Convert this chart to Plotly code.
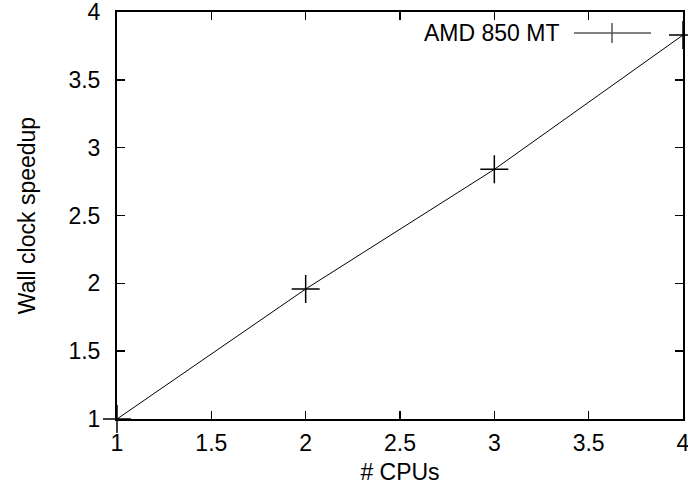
import plotly.graph_objects as go

cpus = [1, 2, 3, 4]
speedup = [1.0, 1.958, 2.84, 3.83]
series_name = "AMD 850 MT"
tick_vals = [1, 1.5, 2, 2.5, 3, 3.5, 4]
tick_text = ["1", "1.5", "2", "2.5", "3", "3.5", "4"]

fig = go.Figure()
fig.add_trace(go.Scatter(
    x=cpus, y=speedup, mode="lines+markers", name=series_name,
    line=dict(color="black", width=1),
    marker=dict(symbol="cross-thin-open", size=20, line=dict(color="#555555", width=1.5)),
    showlegend=False, cliponaxis=False,
))

font = dict(family="Liberation Sans, Arial, sans-serif", size=23, color="black")
axis_common = dict(
    range=[1, 4], tickvals=tick_vals, ticktext=tick_text,
    ticks="inside", ticklen=8, tickwidth=1.5, tickcolor="black",
    showline=True, linecolor="black", linewidth=2, mirror="ticks",
    showgrid=False, zeroline=False, tickfont=font, automargin=False,
    ticklabeloverflow="allow",
)
fig.update_layout(
    width=688, height=486,
    margin=dict(l=117, r=5, t=12, b=67),
    plot_bgcolor="white", paper_bgcolor="white",
    font=font,
    xaxis=dict(**axis_common, ticklabelstandoff=2,
               title=dict(text="# CPUs", font=font, standoff=9)),
    yaxis=dict(**axis_common, ticklabelstandoff=10,
               title=dict(text="Wall clock speedup", font=font, standoff=26)),
)

# gnuplot-style key: text then line sample with marker
fig.add_annotation(xref="x domain", yref="y domain",
                   x=(561 - 117) / 566, y=(419 - 33) / 407, text=series_name,
                   showarrow=False, xanchor="right", yanchor="middle", font=font)
fig.add_shape(type="line", xref="x domain", yref="y domain",
              x0=(574 - 117) / 566, x1=(651 - 117) / 566,
              y0=(419 - 33) / 407, y1=(419 - 33) / 407,
              line=dict(color="black", width=1))
fig.add_shape(type="line", xref="x domain", yref="y domain",
              x0=(612 - 117) / 566, x1=(612 - 117) / 566,
              y0=(419 - 23) / 407, y1=(419 - 43) / 407,
              line=dict(color="#555555", width=1.5))

fig.write_html("out.html",
               config={"displayModeBar": False, "staticPlot": True},
               post_script="document.body.style.margin='0';document.body.style.overflow='hidden';")
